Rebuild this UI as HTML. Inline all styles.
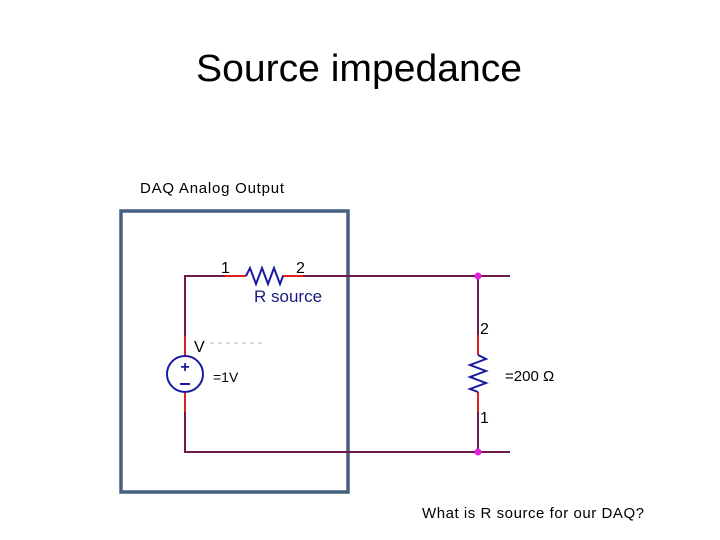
<!DOCTYPE html>
<html><head><style>
body{margin:0;background:#fff;width:720px;height:540px;overflow:hidden}
svg{display:block}
</style></head><body>
<svg width="720" height="540" xmlns="http://www.w3.org/2000/svg">
<text x="196" y="81" textLength="326" lengthAdjust="spacingAndGlyphs" font-family="Liberation Sans, sans-serif" font-size="38" fill="#000">Source impedance</text>
<text x="140" y="193" textLength="144" font-family="Liberation Sans, sans-serif" font-size="15" fill="#000">DAQ Analog Output</text>
<rect x="121" y="211" width="227" height="281" fill="none" stroke="#44607f" stroke-width="3.5"/>
<g stroke="#6b1a4a" stroke-width="2" fill="none">
<path d="M225 276 H185 V356"/>
<path d="M185 392 V452 H510"/>
<path d="M303 276 H510"/>
<path d="M478 276 V335"/>
<path d="M478 412 V452"/>
</g>
<g stroke="#e02020" stroke-width="2" fill="none">
<path d="M225 276 H246"/><path d="M282 276 H303"/>
<path d="M185 336 V356"/><path d="M185 392 V412"/>
<path d="M478 335 V355"/><path d="M478 392 V412"/>
</g>
<g stroke="#1a1aa0" stroke-width="2" fill="none">
<path d="M246 276 L250 268 L256 284 L262 268 L268 284 L274 268 L280 284 L283 276"/>
<path d="M478 355 L486 359 L470 365 L486 371 L470 377 L486 383 L470 389 L478 392"/>
<circle cx="185" cy="374" r="18"/>
</g>
<text x="185" y="372" text-anchor="middle" font-family="Liberation Sans, sans-serif" font-size="16" font-weight="bold" fill="#1a1aa0">+</text>
<path d="M180 384 H190" stroke="#1a1aa0" stroke-width="2"/>
<path d="M210 343 H262" stroke="#bbb" stroke-width="1" stroke-dasharray="4,4"/>
<circle cx="478" cy="276" r="3.5" fill="#e020e0"/>
<circle cx="478" cy="452" r="3.5" fill="#e020e0"/>
<g font-family="Liberation Sans, sans-serif" fill="#000" font-size="16">
<text x="221" y="273">1</text>
<text x="296" y="273">2</text>
<text x="254" y="302" font-size="17" fill="#1a1a80">R source</text>
<text x="194" y="352">V</text>
<text x="213" y="382" font-size="14">=1V</text>
<text x="480" y="334">2</text>
<text x="480" y="423">1</text>
<text x="505" y="381" font-size="15">=200 Ω</text>
</g>
<text x="422" y="518" textLength="222" font-family="Liberation Sans, sans-serif" font-size="15" fill="#000">What is R source for our DAQ?</text>
</svg>
</body></html>
